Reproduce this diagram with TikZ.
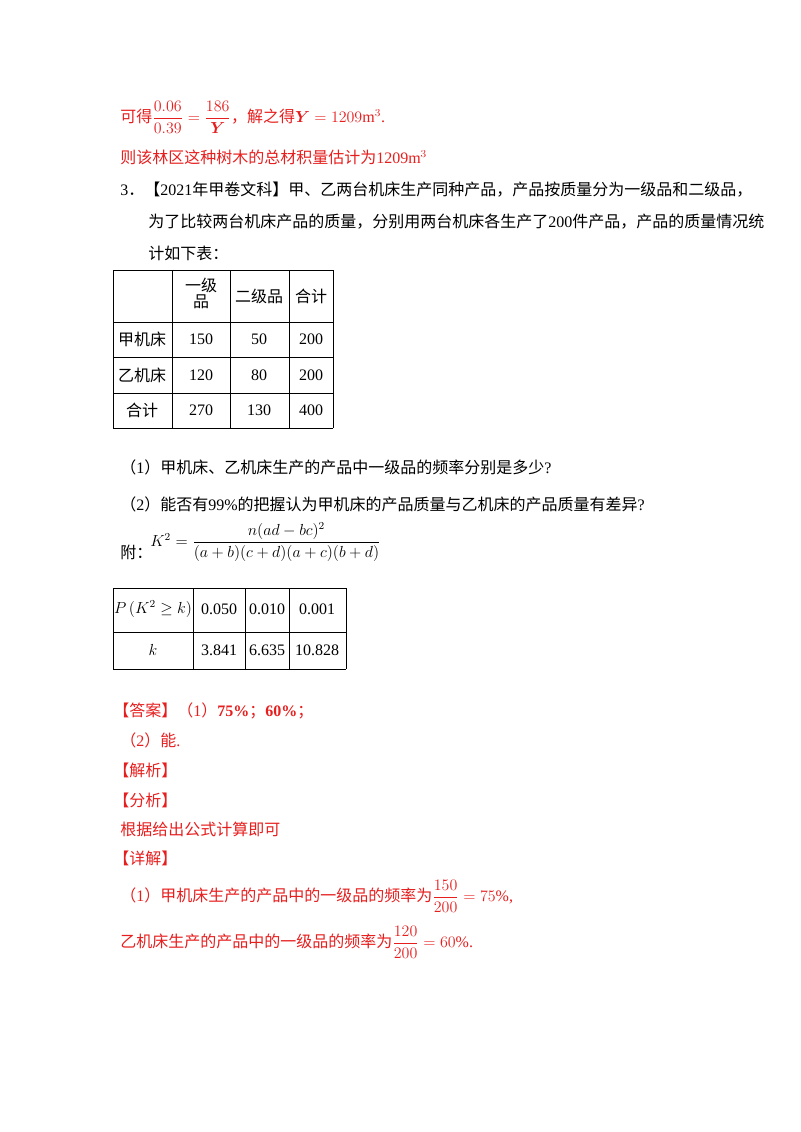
\documentclass[tikz,border=0pt]{standalone}
\usepackage{amsmath,amssymb,bm}
\usepackage{fontspec}
\setmainfont{Liberation Serif}
\newfontfamily\cjk{Noto Sans CJK SC}
\usepackage{xcolor}
\definecolor{ansred}{RGB}{230,30,30}
\begin{document}
\begin{tikzpicture}[x=0.75pt,y=-0.75pt,
  txt/.style={anchor=west,inner sep=0pt,font=\fontsize{12}{14}\selectfont},
  red/.style={text=ansred},
  cell/.style={inner sep=0pt,font=\fontsize{12}{14}\selectfont,align=center},
  grid/.style={line width=0.6pt}]
\path[use as bounding box] (0,0) rectangle (800,1132);
\node[txt,red] (l1) at (120,117) {{\cjk 可得}$\dfrac{0.06}{0.39}=\dfrac{186}{\bm{Y}}${\cjk ，解之得}$\bm{Y}=1209\mathrm{m}^3$.};
\node[txt,red] (l2) at (120,157) {{\cjk 则该林区这种树木的总材积量估计为}1209m$^3$};
\node[txt] (l3) at (120,190) {3{\cjk ．【}2021{\cjk 年甲卷文科】甲、乙两台机床生产同种产品，产品按质量分为一级品和二级品，}};
\node[txt] (l4) at (148,222) {{\cjk 为了比较两台机床产品的质量，分别用两台机床各生产了}200{\cjk 件产品，产品的质量情况统}};
\node[txt] (l5) at (148,253) {{\cjk 计如下表：}};
% table 1
\foreach \x in {113,172,230,289,333} \draw[grid] (\x,270) -- (\x,428);
\foreach \y in {270,322,357,393,428} \draw[grid] (113,\y) -- (333,\y);
\node[cell] (t01) at (201,293) {\cjk 一级\\[-2pt]\cjk 品};
\node[cell] (t02) at (259,296) {\cjk 二级品};
\node[cell] (t03) at (311,296) {\cjk 合计};
\node[cell] (t10) at (142,339) {\cjk 甲机床};
\node[cell] (t11) at (201,339) {150};
\node[cell] (t12) at (259,339) {50};
\node[cell] (t13) at (311,339) {200};
\node[cell] (t20) at (142,375) {\cjk 乙机床};
\node[cell] (t21) at (201,375) {120};
\node[cell] (t22) at (259,375) {80};
\node[cell] (t23) at (311,375) {200};
\node[cell] (t30) at (142,410) {\cjk 合计};
\node[cell] (t31) at (201,410) {270};
\node[cell] (t32) at (259,410) {130};
\node[cell] (t33) at (311,410) {400};
\node[txt] (q1) at (120,467) {{\cjk （}1{\cjk ）甲机床、乙机床生产的产品中一级品的频率分别是多少}?};
\node[txt] (q2) at (120,504) {{\cjk （}2{\cjk ）能否有}99\%{\cjk 的把握认为甲机床的产品质量与乙机床的产品质量有差异}?};
\node[txt] (fu) at (120,552) {\cjk 附：};
\node[txt] (frm) at (150,542) {$K^2=\dfrac{n(ad-bc)^2}{(a+b)(c+d)(a+c)(b+d)}$};
% table 2
\foreach \x in {113,193,245,289,346} \draw[grid] (\x,588) -- (\x,669);
\foreach \y in {588,632,669} \draw[grid] (113,\y) -- (346,\y);
\node[cell] (s00) at (153,609) {$P\left(K^2\geq k\right)$};
\node[cell] (s01) at (219,609) {0.050};
\node[cell] (s02) at (267,609) {0.010};
\node[cell] (s03) at (317,609) {0.001};
\node[cell] (s10) at (153,650) {$k$};
\node[cell] (s11) at (219,650) {3.841};
\node[cell] (s12) at (267,650) {6.635};
\node[cell] (s13) at (317,650) {10.828};
\node[txt,red] (a1) at (113,711) {{\cjk 【答案】（}1{\cjk ）}\textbf{75\%}{\cjk ；}\textbf{60\%}{\cjk ；}};
\node[txt,red] (a2) at (120,740) {{\cjk （}2{\cjk ）能}.};
\node[txt,red] (a3) at (113,770) {\cjk 【解析】};
\node[txt,red] (a4) at (113,800) {\cjk 【分析】};
\node[txt,red] (a5) at (120,829) {\cjk 根据给出公式计算即可};
\node[txt,red] (a6) at (113,858) {\cjk 【详解】};
\node[txt,red] (a7) at (120,896) {{\cjk （}1{\cjk ）甲机床生产的产品中的一级品的频率为}$\dfrac{150}{200}=75\%$,};
\node[txt,red] (a8) at (120,942) {{\cjk 乙机床生产的产品中的一级品的频率为}$\dfrac{120}{200}=60\%$.};
\end{tikzpicture}
\end{document}
